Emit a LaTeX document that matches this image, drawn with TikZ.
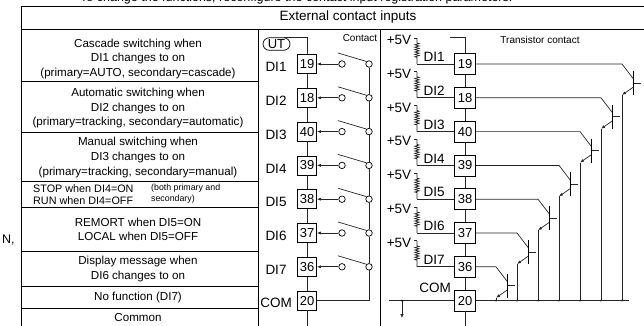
\documentclass[tikz,border=0pt]{standalone}
\usepackage{fontspec}
\setmainfont{Liberation Sans}
\usetikzlibrary{arrows.meta,shapes.misc,decorations.pathmorphing}
\begin{document}
\begin{tikzpicture}[x=1pt,y=-1pt,
  frame/.style={line width=0.8pt,black},
  wire/.style={line width=0.7pt,black!85},
  cell/.style={align=center,inner sep=0,font=\fontsize{11.6}{14.6}\selectfont},
  term/.style={draw,line width=0.7pt,fill=white,minimum width=19,minimum height=19,inner sep=0,font=\fontsize{13}{13}\selectfont},
  rterm/.style={term,minimum width=21,minimum height=21},
  lbl/.style={inner sep=0,font=\fontsize{13.5}{14}\selectfont},
  oc/.style={circle,draw,line width=0.7pt,fill=white,minimum size=6.5,inner sep=0},
  note/.style={inner sep=0,font=\fontsize{10}{11}\selectfont},
  tip/.style={-{Latex[length=4,width=3]}},
  res/.style={decorate,decoration={zigzag,segment length=2.4,amplitude=2.2,pre length=5,post length=6}},
  jdot/.style={circle,fill,inner sep=0,minimum size=2.2}
]
\useasboundingbox (0,0) rectangle (644,326);
\clip (0,0) rectangle (644,326);

% cut-off heading line
\node[anchor=base west,inner sep=0,font=\fontsize{12.5}{14}\selectfont] (head) at (80,1.5) {To change the functions, reconfigure the contact input registration parameters.};
\node[anchor=west,inner sep=0,font=\fontsize{12.5}{14}\selectfont] (nn) at (2,240) {N,};

% frame
\draw[frame] (650,6) -- (21,6) -- (21,330);
\draw[frame] (21,29) -- (650,29);
\draw[frame] (258,29) -- (258,330);
\draw[frame] (380,29) -- (380,330);
\foreach \yy in {81.7,132.7,181.3,207,251.3,286.3,308}{\draw[frame] (21,\yy) -- (258,\yy);}

\node[inner sep=0,font=\fontsize{13.5}{14}\selectfont] (title) at (348,17.5) {External contact inputs};

% left column texts
\node[cell] (r1) at (138,59) {Cascade switching when\\DI1 changes to on\\(primary=AUTO, secondary=cascade)};
\node[cell] (r2) at (138,108) {Automatic switching when\\DI2 changes to on\\(primary=tracking, secondary=automatic)};
\node[cell] (r3) at (138,157.5) {Manual switching when\\DI3 changes to on\\(primary=tracking, secondary=manual)};
\node[cell,align=left,anchor=west,font=\fontsize{10.8}{11.5}\selectfont] (r4) at (33,194.5) {STOP when DI4=ON\\RUN when DI4=OFF};
\node[cell,align=left,anchor=west,font=\fontsize{8.8}{10.5}\selectfont] (r4b) at (151,193.5) {(both primary and\\secondary)};
\node[cell] (r5) at (138,229.5) {REMORT when DI5=ON\\LOCAL when DI5=OFF};
\node[cell] (r6) at (138,269) {Display message when\\DI6 changes to on};
\node[cell] (r7) at (138,297.5) {No function (DI7)};
\node[cell] (r8) at (138,317.5) {Common};

% labels
\node[note] (contact) at (360,38) {Contact};
\node[note] (tcontact) at (540,40) {Transistor contact};

% UT
\node[draw,rounded rectangle,line width=0.7pt,minimum width=27,minimum height=12.5,inner sep=0,font=\fontsize{13}{13}\selectfont] (ut) at (276.5,44) {UT};

% terminal blocks
\foreach \i/\y/\n in {1/64/19,2/97.8/18,3/131.6/40,4/165.4/39,5/199.2/38,6/233/37,7/266.8/36,8/300.6/20}{
  \node[term] (a\i) at (307,\y) {\n};
  \node[rterm] (b\i) at (465,\y) {\n};
}
\foreach \i [evaluate=\i as \j using int(\i+1)] in {1,...,7}{
  \draw[wire] (a\i.south) -- (a\j.north);
  \draw[wire] (b\i.south) -- (b\j.north);
}
\coordinate (lbot) at (307,326);
\coordinate (rbot) at (465,326);
\draw[wire] (a8.south) -- (lbot);
\draw[wire] (b8.south) -- (rbot);
\draw[wire] ([xshift=7]ut.north) -- (ut.north -| a1) -- (a1.north);
\coordinate (rtop) at (450,37);
\draw[wire] (rtop) -- (rtop -| b1) -- (b1.north);

\node[lbl] (com1) at (276,303) {COM};
\node[lbl] (com2) at (435,288) {COM};

% contacts
\foreach \i/\y in {1/64,2/97.8,3/131.6,4/165.4,5/199.2,6/233,7/266.8}{
  \node[lbl] (d\i) at (276,\y+3) {DI\i};
  \node[oc] (p\i) at (342,\y) {};
  \node[oc] (q\i) at (369,\y) {};
  \draw[wire,tip] (p\i.west) -- (a\i.east);
  \coordinate (k\i) at (338,\y-11);
  \draw[wire] (k\i) -- (q\i.north west);
}
\foreach \i [evaluate=\i as \j using int(\i+1)] in {1,...,6}{
  \draw[wire] (q\i.south) -- (q\j.north);
}
\draw[wire] (q7.south) |- (a8.east);

% resistors and transistors
\foreach \i/\y in {1/64,2/97.8,3/131.6,4/165.4,5/199.2,6/233,7/266.8}{
  \pgfmathsetmacro{\cx}{643-21*\i}
  \node[lbl] (v\i) at (399,\y-24) {+5V};
  \node[lbl] (e\i) at (434,\y-7) {DI\i};
  \coordinate (rt\i) at (417,\y-26);
  \coordinate (rb\i) at (417,\y);
  \draw[wire] (rt\i) -- ++(-3,0);
  \draw[wire,res] (rt\i) -- (rb\i);
  \draw[wire] (rb\i) -- (b\i.west);
  \coordinate (c\i) at (\cx,\y);
  \coordinate (cb\i) at (\cx+11.5,\y+15);
  \coordinate (bt\i) at (\cx+11.5,\y+7);
  \coordinate (bb\i) at (\cx+11.5,\y+31);
  \coordinate (bs\i) at (\cx+11.5,\y+19);
  \coordinate (be\i) at (\cx+11.5,\y+23);
  \coordinate (em\i) at (\cx,\y+31);
  \coordinate (g\i) at (\cx,300.6);
  \draw[wire] (b\i.east) -- (c\i) -- (cb\i);
  \draw[line width=1.5pt] (bt\i) -- (bb\i);
  \draw[wire] (bs\i) -- ++(7.5,0);
  \draw[wire,tip] (be\i) -- (em\i);
  \draw[wire] (em\i) -- (g\i);
  \node[jdot] at (g\i) {};
}
\coordinate (gl) at (389,300.6);
\coordinate (gr) at (629,300.6);
\draw[wire] (gl) -- (b8.west);
\draw[wire] (b8.east) -- (gr);
\coordinate (gs) at (402,300.6);
\coordinate (ge) at (402,318);
\node[jdot] at (gs) {};
\draw[wire,-{Latex[length=4,width=3.5]}] (gs) -- (ge);
\end{tikzpicture}
\end{document}
